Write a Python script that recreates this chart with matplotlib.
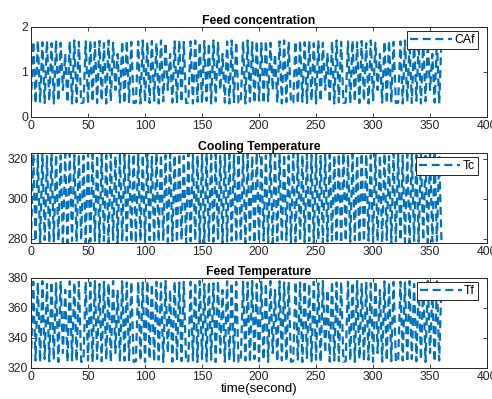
import numpy as np
import matplotlib
matplotlib.use('Agg')
import matplotlib.pyplot as plt

plt.rcParams['font.family'] = ['Liberation Sans', 'DejaVu Sans']

# one repeating stretch of samples (every 2 s)
caf_cycle = [0.32, 1.68, 0.30, 1.70, 0.34, 1.66, 0.31, 1.69, 0.36, 1.64, 0.30, 1.70,
             0.35, 1.65, 0.60, 1.40, 0.32, 1.68, 0.30, 1.70, 0.33, 1.67, 0.31]
tc_cycle = [278.5, 322.5, 279.0, 322.0, 278.2, 322.8, 279.5, 321.5, 278.0, 323.0,
            278.8, 322.2, 279.2, 321.8, 278.4, 322.6, 278.0, 323.0, 279.0, 322.0,
            278.6, 322.4, 279.4, 321.6, 278.1, 322.9, 278.7, 322.3, 279.1, 321.9]
tf_cycle = [324.5, 377.5, 325.0, 377.0, 324.0, 378.0, 326.0, 376.0, 324.5, 377.5,
            325.5, 376.5, 324.0, 378.0, 330.0, 372.0, 324.2, 377.8, 325.0, 377.0,
            324.6, 377.4, 324.1]

time = np.arange(0, 362, 2)
n = len(time)
caf = np.tile(caf_cycle, n // len(caf_cycle) + 1)[:n]
tc = np.tile(tc_cycle, n // len(tc_cycle) + 1)[:n]
tf = np.tile(tf_cycle, n // len(tf_cycle) + 1)[:n]

panels = [
    ('Feed concentration', caf, 'CAf', (0, 2), [0, 1, 2]),
    ('Cooling Temperature', tc, 'Tc', (278, 323), [280, 300, 320]),
    ('Feed Temperature', tf, 'Tf', (320, 380), [320, 340, 360, 380]),
]
bottoms = [0.7068, 0.391, 0.0777]

fig = plt.figure(figsize=(4.92, 3.99), dpi=100)
blue = '#0072BD'

for (title, y, lab, ylim, yt), b in zip(panels, bottoms):
    ax = fig.add_axes([0.063, b, 0.927, 0.2256])
    ax.plot(time, y, color=blue, lw=1.6, ls=(0, (3.6, 2.1)), label=lab)
    ax.set_xlim(0, 400)
    ax.set_ylim(*ylim)
    ax.set_xticks(range(0, 401, 50))
    ax.set_yticks(yt)
    ax.tick_params(direction='in', top=True, right=True, labelsize=8.8,
                   length=3, width=0.6, pad=2, colors='#262626')
    for s in ax.spines.values():
        s.set_linewidth(0.7)
        s.set_color('#262626')
    ax.set_title(title, fontsize=8.8, fontweight='bold', pad=2)
    leg = ax.legend(loc='upper right', bbox_to_anchor=(0.98, 0.955),
                    borderaxespad=0, fontsize=8.8, fancybox=False,
                    framealpha=1, borderpad=0.25, handlelength=3.4,
                    handletextpad=0.2)
    leg.get_frame().set_edgecolor('#262626')
    leg.get_frame().set_linewidth(0.7)

ax.set_xlabel('time(second)', fontsize=9.5, labelpad=0)

fig.savefig('out.png', dpi=100)
